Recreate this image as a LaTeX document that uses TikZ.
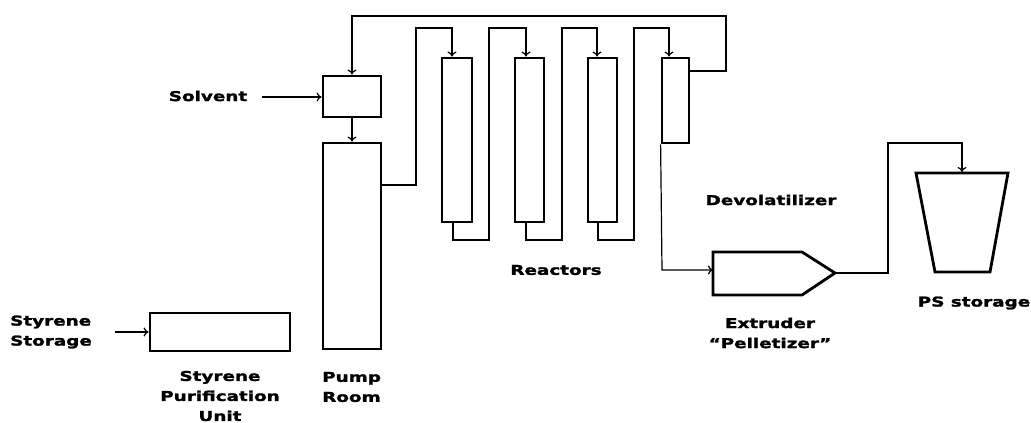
\documentclass[tikz,border=0pt]{standalone}
\usepackage{fontspec}
\setmainfont{DejaVu Sans}[BoldFont={DejaVu Sans Bold}]
\newfontfamily\lblfont{DejaVu Sans Bold}[FakeStretch=1.36,FakeBold=1.8]
\usetikzlibrary{arrows.meta,calc}
\begin{document}
\begin{tikzpicture}[x=1pt,y=-1pt,
  unit/.style={draw,line width=2.8pt,inner sep=0pt,minimum width=#1},
  conn/.style={line width=1.2pt,-{To[length=5pt,width=9pt,line width=1.2pt]}},
  lbl/.style={font={\lblfont\fontsize{13.5}{20}\selectfont},inner sep=0pt}]
\useasboundingbox (0,0) rectangle (1031,423);
% units
\node[unit=140pt,minimum height=38pt] (spu) at (220,332) {};
\node[unit=58pt,minimum height=41pt] (solv) at (352,96.5) {};
\node[unit=58pt,minimum height=206pt] (pump) at (352,246) {};
\node[unit=30pt,minimum height=164pt] (r1) at (457,140) {};
\node[unit=29pt,minimum height=164pt] (r2) at (529.5,140) {};
\node[unit=29pt,minimum height=164pt] (r3) at (602.5,140) {};
\node[unit=27pt,minimum height=85pt] (dev) at (675.5,100.5) {};
% extruder
\draw[line width=2.8pt,line join=miter] (713,252) -- (802,252) -- (835,273) -- (802,295) -- (713,295) -- cycle;
\coordinate (extin) at (713,270);
\coordinate (extout) at (835,273);
% PS storage
\draw[line width=2.8pt] (916,173) -- (1008,173) -- (990,272) -- (935,272) -- cycle;
\coordinate (pstop) at (962,172);
% free ends
\coordinate (stin) at (115,332);
\coordinate (solin) at (262,97);
% connectors
\draw[conn] (stin) -- (spu.west);
\draw[conn] (solin) -- (solv.west |- solin);
\draw[conn] (solv.south) -- (pump.north);
\draw[conn] (pump.east |- 0,185) -- (416,185) -- (416,28) -- (452,28) -- ([xshift=-5pt]r1.north);
\draw[conn] ([xshift=-4pt]r1.south) -- (453,240) -- (489,240) -- (489,28) -- (526,28) -- ([xshift=-3.5pt]r2.north);
\draw[conn] ([xshift=-3.5pt]r2.south) -- (526,240) -- (562,240) -- (562,28) -- (597,28) -- ([xshift=-5.5pt]r3.north);
\draw[conn] ([xshift=-4.5pt]r3.south) -- (598,240) -- (634,240) -- (634,28) -- (669,28) -- ([xshift=-6.5pt]dev.north);
\draw[conn] (dev.east |- 0,71) -- (726,71) -- (726,16) -- (352,16) -- (solv.north);
\draw[conn] (dev.south west) -- (662,270) -- (extin);
\draw[conn] (extout) -- (888,273) -- (888,143) -- (962,143) -- (pstop);
% labels
\node[lbl] (lsolv) at (208,96) {Solvent};
\node[lbl,anchor=west,align=left] (lst) at (10,332) {Styrene\\Storage};
\node[lbl,align=center] (lspu) at (220,396) {Styrene\\Purification\\Unit};
\node[lbl,anchor=west,align=left] (lpump) at (322,387) {Pump\\Room};
\node[lbl] (lreac) at (556,270) {Reactors};
\node[lbl] (ldev) at (771,200) {Devolatilizer};
\node[lbl,align=center] (lext) at (770,333) {Extruder\\“Pelletizer”};
\node[lbl] (lps) at (974,303) {PS storage};
\end{tikzpicture}
\end{document}
